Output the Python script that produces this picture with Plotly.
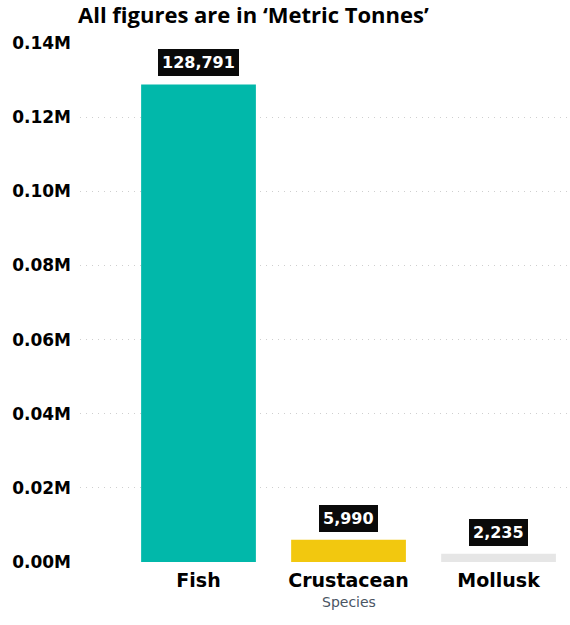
import plotly.graph_objects as go

# Catch by species, metric tonnes
species = ["Fish", "Crustacean", "Mollusk"]
tonnes = [128791, 5990, 2235]
bar_colors = ["#01B8AA", "#F2C80F", "#E6E6E6"]

tick_vals = [0, 20000, 40000, 60000, 80000, 100000, 120000, 140000]
tick_text = ["0.00M", "0.02M", "0.04M", "0.06M", "0.08M", "0.10M", "0.12M", "0.14M"]

W, H = 570, 625
L, R, T, B = 80, 2, 42, 62
pw, ph = W - L - R, H - T - B

fig = go.Figure(
    go.Bar(
        x=list(range(len(species))),
        y=tonnes,
        marker=dict(color=bar_colors, line=dict(width=0)),
        width=0.765,
        hoverinfo="skip",
    )
)

# value labels in dark boxes above each bar
for i, v in enumerate(tonnes):
    fig.add_annotation(
        x=i, y=v, xref="x", yref="y",
        text=f"<b>{v:,}</b>",
        showarrow=False, yanchor="bottom", yshift=8,
        font=dict(family="DejaVu Sans", size=16, color="white"),
        bgcolor="#0a0a0a", bordercolor="#0a0a0a", borderpad=3,
    )

# heading above the plot
fig.add_annotation(
    xref="paper", yref="paper",
    x=(253 - L) / pw, y=1 + (T - 14) / ph,
    xanchor="center", yanchor="middle",
    text="<b>All figures are in ‘Metric Tonnes’</b>",
    showarrow=False,
    font=dict(family="Open Sans", size=22, color="black"),
)

# axis title centred under the middle category
fig.add_annotation(
    xref="x", yref="paper",
    x=1, y=-(602 - (T + ph)) / ph,
    xanchor="center", yanchor="middle",
    text="Species", showarrow=False,
    font=dict(family="DejaVu Sans", size=14, color="#4a5563"),
)

fig.update_layout(
    width=W, height=H,
    margin=dict(l=L, r=R, t=T, b=B),
    paper_bgcolor="white", plot_bgcolor="white",
    showlegend=False,
    xaxis=dict(
        range=[-0.79, 2.463],
        tickvals=list(range(len(species))),
        ticktext=[f"<b>{s}</b>" for s in species],
        tickfont=dict(family="DejaVu Sans", size=19, color="black"),
        ticklabelstandoff=4,
        showgrid=False, zeroline=False, showline=False, ticks="",
    ),
    yaxis=dict(
        range=[-250, 140250],
        tickvals=tick_vals,
        ticktext=[f"<b>{t}</b>" for t in tick_text],
        tickfont=dict(family="DejaVu Sans", size=17, color="black"),
        ticklabelstandoff=8,
        showgrid=True, gridcolor="#cfcfcf", griddash="1px,5px", gridwidth=1,
        zeroline=False, showline=False, ticks="",
    ),
)

fig.write_html("out.html")
